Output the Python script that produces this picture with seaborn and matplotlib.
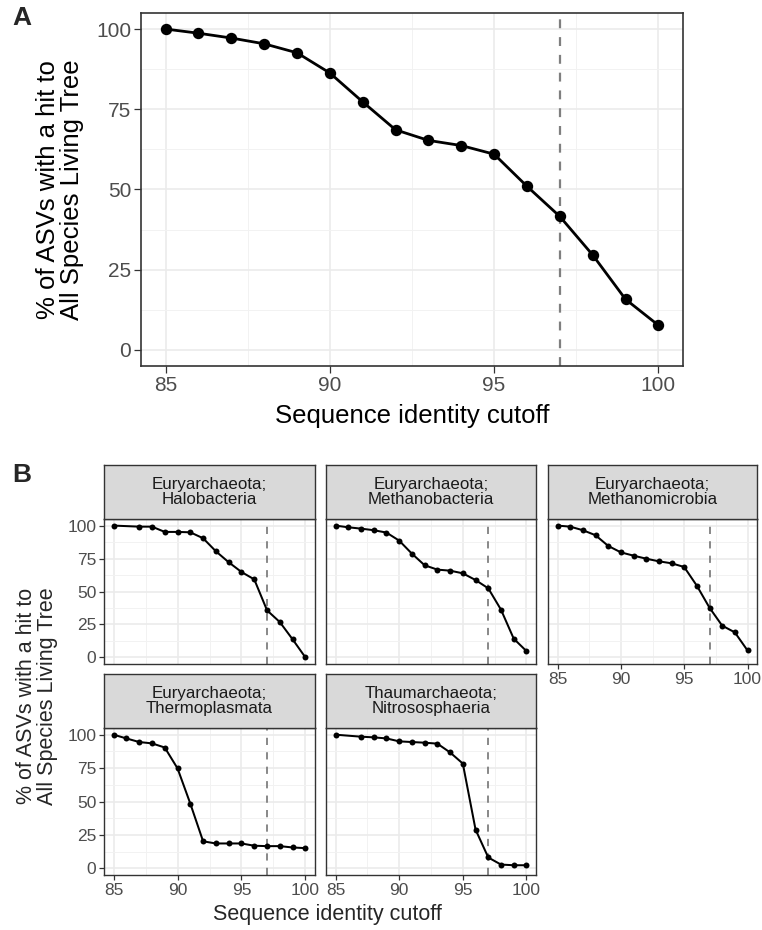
import matplotlib
matplotlib.use("Agg")
import matplotlib.pyplot as plt
import seaborn as sns
import numpy as np
import pandas as pd

sns.set_theme(style="white")
plt.rcParams['font.family'] = ['Liberation Sans', 'DejaVu Sans']

# ---------------- data ----------------
cutoffs = [85, 86, 87, 88, 89, 90, 91, 92, 93, 94, 95, 96, 97, 98, 99, 100]
overall_pct = [100, 98.7, 97.2, 95.4, 92.6, 86.3, 77.3, 68.6, 65.3, 63.7, 61.0, 51.0, 41.6, 29.6, 15.8, 7.7]

facet_names = ["Euryarchaeota;\nHalobacteria", "Euryarchaeota;\nMethanobacteria",
               "Euryarchaeota;\nMethanomicrobia", "Euryarchaeota;\nThermoplasmata",
               "Thaumarchaeota;\nNitrososphaeria"]

halo_x = [85, 87, 88, 89, 90, 91, 92, 93, 94, 95, 96, 97, 98, 99, 100]
halo_y = [100, 99.2, 99.2, 95.2, 95.2, 94.9, 90.4, 80.5, 72.2, 64.8, 59.2, 35.7, 26.8, 13.7, 0]

methbac_x = cutoffs
methbac_y = [100, 98.7, 97.7, 96.5, 94.7, 88.6, 78.7, 69.9, 66.6, 65.8, 63.8, 58.7, 52.4, 36.2, 14.2, 4.8]

methmic_x = cutoffs
methmic_y = [100, 99.2, 96.5, 92.7, 84.6, 79.7, 77.2, 74.9, 72.9, 71.4, 68.6, 54.4, 37.7, 24.1, 19.0, 5.3]

thermo_x = cutoffs
thermo_y = [100, 97.2, 94.5, 93.5, 90.4, 74.8, 48.4, 20.2, 18.6, 18.6, 18.6, 16.9, 16.6, 16.6, 15.6, 15.1]

thaum_x = [85, 87, 88, 89, 90, 91, 92, 93, 94, 95, 96, 97, 98, 99, 100]
thaum_y = [100, 98.5, 98.0, 97.2, 95.0, 94.5, 94.0, 93.3, 86.7, 78.4, 29.0, 8.1, 2.8, 2.3, 2.3]

facet_x = [halo_x, methbac_x, methmic_x, thermo_x, thaum_x]
facet_y = [halo_y, methbac_y, methmic_y, thermo_y, thaum_y]

x_ticks = [85, 90, 95, 100]
y_ticks = [0, 25, 50, 75, 100]
cutoff_line = 97
ylab = "% of ASVs with a hit to\nAll Species Living Tree"
xlab = "Sequence identity cutoff"

# ---------------- style ----------------
W, H = 762, 930
fig = plt.figure(figsize=(W / 100, H / 100), dpi=100)

BORDER = "#333333"
TICKLAB = "#4D4D4D"
GRID = "#EBEBEB"


def fr(x0, y0, x1, y1):
    return [x0 / W, 1 - y1 / H, (x1 - x0) / W, (y1 - y0) / H]


def style_ax(ax, tick_fs, tick_len, show_x=True, show_y=True, lw_border=1.0):
    ax.set_xlim(84.25, 100.75)
    ax.set_ylim(-5, 105)
    ax.set_xticks(x_ticks)
    ax.set_yticks(y_ticks)
    ax.set_xticks([87.5, 92.5, 97.5], minor=True)
    ax.set_yticks([12.5, 37.5, 62.5, 87.5], minor=True)
    ax.grid(which="major", color=GRID, lw=1.2)
    ax.grid(which="minor", color="#F2F2F2", lw=0.7)
    ax.set_axisbelow(True)
    for s in ax.spines.values():
        s.set_color(BORDER)
        s.set_linewidth(lw_border)
        s.set_visible(True)
    ax.tick_params(which="major", direction="out", length=tick_len, width=0.9, color=BORDER,
                   labelsize=tick_fs, labelcolor=TICKLAB, pad=2,
                   bottom=True, left=True)
    ax.tick_params(which="minor", length=0)
    if not show_x:
        ax.tick_params(axis="x", labelbottom=False, length=0)
    if not show_y:
        ax.tick_params(axis="y", labelleft=False, length=0)
    ax.set_xlabel("")
    ax.set_ylabel("")


# ---------------- panel A ----------------
axA = fig.add_axes(fr(141, 13, 683, 366))
dfA = pd.DataFrame({"cutoff": cutoffs, "pct": overall_pct})
axA.axvline(cutoff_line, color="#7F7F7F", ls=(0, (4, 4)), lw=1.6, zorder=1)
sns.lineplot(data=dfA, x="cutoff", y="pct", ax=axA, color="black", lw=2.0,
             marker="o", markersize=8.2, markeredgewidth=0, zorder=3)
style_ax(axA, tick_fs=15, tick_len=5, lw_border=1.2)
axA.set_xlabel(xlab, fontsize=18.5, color="black", labelpad=7)
axA.set_ylabel(ylab, fontsize=18.5, color="black", labelpad=9, linespacing=1.0)
fig.text(12 / W, 1 - 18 / H, "A", fontsize=19, fontweight="bold", va="center", ha="left")

# ---------------- panel B ----------------
cols = [(104, 315), (326, 536), (548, 757)]
rows = [(519, 664), (728, 875)]
strip_h = 54
positions = [(0, 0), (0, 1), (0, 2), (1, 0), (1, 1)]

for i, (r, c) in enumerate(positions):
    x0, x1 = cols[c]
    y0, y1 = rows[r]
    ax = fig.add_axes(fr(x0, y0, x1, y1))
    df = pd.DataFrame({"cutoff": facet_x[i], "pct": facet_y[i]})
    ax.axvline(cutoff_line, color="#7F7F7F", ls=(0, (4, 4)), lw=1.3, zorder=1)
    sns.lineplot(data=df, x="cutoff", y="pct", ax=ax, color="black", lw=1.45,
                 marker="o", markersize=4.3, markeredgewidth=0, zorder=3)
    show_x = (r == 1) or (c == 2)
    show_y = (c == 0)
    style_ax(ax, tick_fs=12.5, tick_len=3.6, show_x=show_x, show_y=show_y, lw_border=1.0)
    # strip
    sax = fig.add_axes(fr(x0, y0 - strip_h, x1, y0))
    sax.set_xlim(0, 1)
    sax.set_ylim(0, 1)
    sax.set_xticks([])
    sax.set_yticks([])
    sax.set_facecolor("#D9D9D9")
    for s in sax.spines.values():
        s.set_color(BORDER)
        s.set_linewidth(1.0)
    sax.text(0.5, 0.5, facet_names[i], ha="center", va="center", fontsize=12.2,
             color="#1A1A1A", linespacing=1.05)

fig.text(12 / W, 1 - 475 / H, "B", fontsize=19, fontweight="bold", va="center", ha="left")
fig.text(37 / W, 1 - 696 / H, ylab, rotation=90, fontsize=15.5, ha="center", va="center",
         linespacing=1.0)
fig.text(327 / W, 1 - 914 / H, xlab, fontsize=15.5, ha="center", va="center")

fig.savefig("out.png", dpi=100)
